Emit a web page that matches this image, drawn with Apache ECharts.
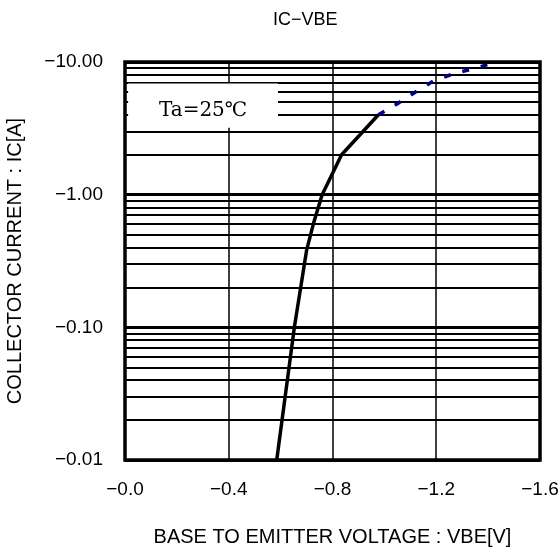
<!DOCTYPE html>
<html>
<head>
<meta charset="utf-8">
<script src="https://cdn.jsdelivr.net/npm/echarts@6/dist/echarts.min.js"></script>
<style>
html, body { margin: 0; padding: 0; background: #fff; }
#main { width: 560px; height: 552px; }
</style>
</head>
<body>
<div id="main"></div>
<script>
// IC-VBE curve, values (V, A)
var solidCurve = [[0.585, 0.01], [0.653, 0.1], [0.700, 0.38], [0.726, 0.6], [0.760, 1.0], [0.835, 2.0], [0.977, 4.0]];
var dashedCurve = [[0.977, 4.0], [1.05, 4.85], [1.12, 5.95], [1.19, 7.2], [1.27, 8.2], [1.35, 8.95], [1.43, 10.0]];
var decades = [0.01, 0.1, 1]; // log grid
var minorSteps = [2, 3, 4, 5, 6, 7, 8, 9];

var minorLines = [];
decades.forEach(function(d) {
	minorSteps.forEach(function(s) {
		minorLines.push({ yAxis: +(d * s).toPrecision(3) });
	});
});

var labelFont = "'Liberation Sans', Arial, sans-serif";
var myChart = echarts.init(document.getElementById('main'));

var option = {
	backgroundColor: '#fff',
	animation: false,
	title: {
		text: 'IC\u2212VBE',
		left: 268,
		top: 6,
		textStyle: { fontSize: 18, fontWeight: 'normal', color: '#000', fontFamily: labelFont }
	},
	grid: {
		left: 125,
		right: 20,
		top: 62,
		bottom: 92,
		outerBoundsMode: 'none',
		containLabel: false,
		show: true,
		borderColor: '#000',
		borderWidth: 3.5,
		backgroundColor: 'transparent'
	},
	xAxis: {
		type: 'value',
		min: 0,
		max: 1.6,
		interval: 0.4,
		name: 'BASE TO EMITTER VOLTAGE : VBE[V]',
		nameLocation: 'middle',
		nameGap: 67,
		nameTextStyle: { fontSize: 20, color: '#000', fontFamily: labelFont },
		axisLine: { show: false },
		axisTick: { show: false },
		axisLabel: {
			margin: 20,
			fontSize: 19,
			color: '#000',
			fontFamily: labelFont,
			formatter: function(v) { return '\u2212' + v.toFixed(1); }
		},
		splitLine: { show: true, lineStyle: { color: '#000', width: 1.5 } }
	},
	yAxis: {
		type: 'log',
		logBase: 10,
		min: 0.01,
		max: 10,
		name: 'COLLECTOR CURRENT : IC[A]',
		nameLocation: 'middle',
		nameGap: 100,
		nameTextStyle: { fontSize: 20, color: '#000', fontFamily: labelFont },
		axisLine: { show: false },
		axisTick: { show: false },
		axisLabel: {
			margin: 22,
			fontSize: 19,
			color: '#000',
			fontFamily: labelFont,
			formatter: function(v) { return '\u2212' + v.toFixed(2); }
		},
		splitLine: { show: true, lineStyle: { color: '#000', width: 3 } }
	},
	series: [{
		// minor log grid lines
		name: 'grid',
		type: 'line',
		data: [],
		z: 1,
		silent: true,
		markLine: {
			z: 1,
			silent: true,
			symbol: ['none', 'none'],
			label: { show: false },
			lineStyle: { color: '#000', width: 2, type: 'solid' },
			data: minorLines
		}
	}, {
		name: 'solid',
		type: 'line',
		data: solidCurve,
		z: 3,
		symbol: 'none',
		lineStyle: { color: '#000', width: 3.5 },
		markArea: {
			z: 2,
			silent: true,
			itemStyle: { color: '#fff', borderWidth: 0 },
			label: {
				show: true,
				position: 'inside',
				offset: [0, 5],
				formatter: 'Ta=25\u2103',
				color: '#000',
				fontSize: 20,
				fontFamily: "'DejaVu Serif', 'Liberation Serif', serif"
			},
			data: [[{ xAxis: 0.012, yAxis: 6.9 }, { xAxis: 0.59, yAxis: 3.2 }]]
		}
	}, {
		name: 'dashed',
		type: 'line',
		data: dashedCurve,
		z: 3,
		symbol: 'none',
		lineStyle: { color: '#00008c', width: 3.5, type: [7, 12] }
	}]
};

myChart.setOption(option);
</script>
</body>
</html>
